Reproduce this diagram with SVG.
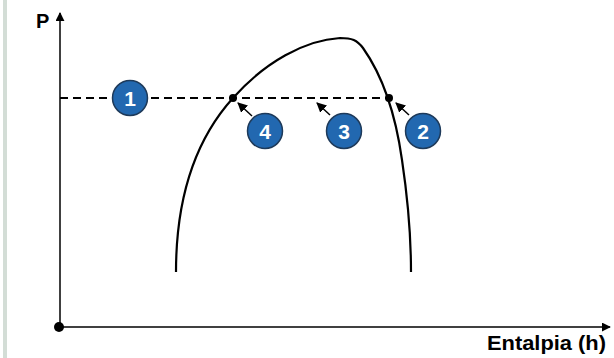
<svg xmlns="http://www.w3.org/2000/svg" width="614" height="358" viewBox="0 0 614 358">
<style>
.lbl{font-family:"Liberation Sans",Arial,sans-serif;font-weight:bold;fill:#000}
.num circle{fill:#2268b0;stroke:#1e3a5a;stroke-width:1.5}
.num text{font-family:"Liberation Sans",Arial,sans-serif;font-weight:bold;font-size:21px;fill:#fff;text-anchor:middle}
.ptr{stroke:#000;stroke-width:1.5;fill:none;marker-end:url(#ah)}
</style>
<defs>
<marker id="ah" viewBox="0 0 10 10" refX="9" refY="5" markerWidth="10" markerHeight="10" markerUnits="userSpaceOnUse" orient="auto">
<path d="M0,0 L10,5 L0,10 Z" fill="#000"/>
</marker>
<marker id="ax" viewBox="0 0 10 10" refX="9" refY="5" markerWidth="9" markerHeight="9" markerUnits="userSpaceOnUse" orient="auto">
<path d="M0,0 L10,5 L0,10 Z" fill="#000"/>
</marker>
</defs>
<rect x="3" y="0" width="4" height="358" fill="#d3ddd6"/>
<g id="axes">
<line x1="60" y1="327" x2="60" y2="13" stroke="#000" stroke-width="1.5" marker-end="url(#ax)"/>
<line x1="60" y1="327" x2="610" y2="327" stroke="#000" stroke-width="1.5" marker-end="url(#ax)"/>
<circle cx="59" cy="327" r="5" fill="#000"/>
<text class="lbl" x="36" y="28" font-size="20">P</text>
<text class="lbl" x="487" y="350" font-size="20" textLength="119" lengthAdjust="spacingAndGlyphs">Entalpia (h)</text>
</g>
<g id="connectors">
<line x1="60" y1="98" x2="390" y2="98" stroke="#000" stroke-width="2" stroke-dasharray="8,5"/>
<path d="M176,272 C176,200 195,140 233,98 C265,62 305,40 340,38 C352,38 357,40 363,48 C380,72 395,110 402,160 C408,200 411,240 411,272" fill="none" stroke="#000" stroke-width="2.2"/>
<circle cx="233" cy="98" r="4" fill="#000"/>
<circle cx="389" cy="98" r="4" fill="#000"/>
<line class="ptr" x1="252" y1="116" x2="238" y2="103"/>
<line class="ptr" x1="330" y1="115" x2="317" y2="103"/>
<line class="ptr" x1="409" y1="115" x2="396" y2="103"/>
</g>
<g id="n1" class="num"><circle cx="130" cy="98" r="17.5"/><text x="130" y="105.5">1</text></g>
<g id="n4" class="num"><circle cx="265" cy="131" r="17.5"/><text x="265" y="138.5">4</text></g>
<g id="n3" class="num"><circle cx="344" cy="131" r="17.5"/><text x="344" y="138.5">3</text></g>
<g id="n2" class="num"><circle cx="423" cy="131" r="17.5"/><text x="423" y="138.5">2</text></g>
</svg>
